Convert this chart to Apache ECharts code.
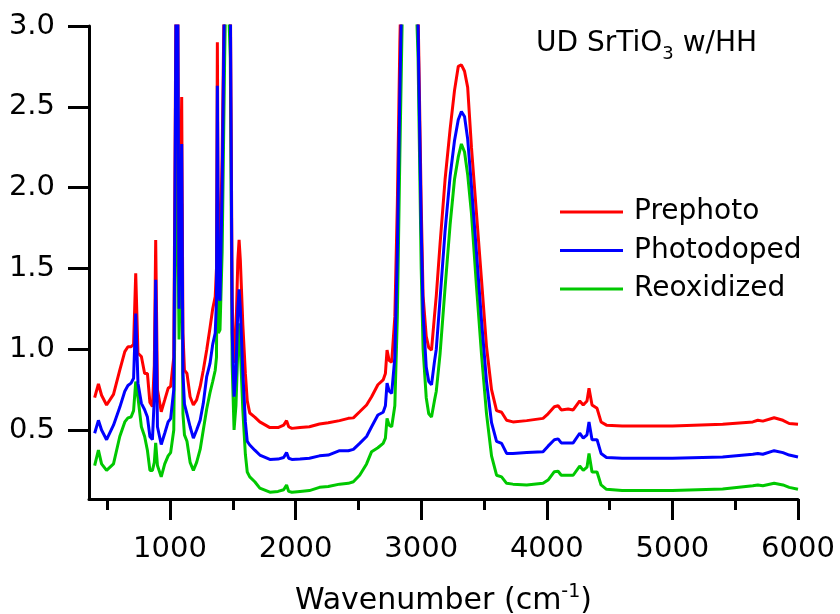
<!DOCTYPE html>
<html><head><meta charset="utf-8">
<script src="https://cdn.jsdelivr.net/npm/echarts@6/dist/echarts.min.js"></script>
<style>html,body{margin:0;padding:0;background:#fff}#c{width:840px;height:614px}</style>
</head><body><div id="c"></div><script>
const wavenumbers = [400,430,455,495,550,600,640,665,690,710,727,745,772,798,820,840,860,875,886,900,930,958,985,1005,1030,1040,1052,1062,1072,1083,1093,1103,1115,1135,1160,1186,1212,1240,1265,1292,1318,1340,1360,1370,1377,1385,1398,1415,1435,1450,1465,1480,1495,1510,1525,1540,1550,1560,1580,1600,1615,1635,1675,1715,1795,1860,1905,1928,1945,1970,2035,2110,2190,2260,2350,2420,2460,2510,2565,2605,2655,2697,2715,2728,2745,2765,2790,2810,2830,2850,2900,2950,2975,3000,3015,3040,3060,3082,3105,3120,3150,3190,3230,3265,3295,3320,3345,3370,3400,3440,3480,3520,3560,3600,3640,3680,3730,3840,3970,4010,4060,4090,4115,4170,4210,4262,4290,4320,4336,4360,4400,4432,4475,4600,5000,5400,5640,5680,5720,5810,5880,5930,6000];
const prephoto = [0.70,0.785,0.715,0.655,0.72,0.87,0.985,1.015,1.015,1.03,1.47,0.975,0.955,0.85,0.85,0.67,0.645,0.9,1.676,0.75,0.613,0.686,0.758,0.77,0.95,2.2,3.8,3.2,1.45,2.0,2.56,1.1,0.87,0.85,0.706,0.655,0.686,0.768,0.87,0.995,1.13,1.25,1.325,1.5,2.9,1.6,1.55,2.2,3.4,4.0,4.0,3.3,1.3,0.915,1.1,1.55,1.676,1.55,1.15,0.85,0.68,0.605,0.58,0.55,0.515,0.515,0.53,0.558,0.52,0.51,0.516,0.52,0.537,0.545,0.558,0.572,0.575,0.613,0.655,0.706,0.78,0.81,0.85,0.995,0.93,0.92,1.2,1.9,2.9,3.6,4.2,3.8,3.1,1.9,1.33,1.08,1.01,0.995,1.2,1.33,1.65,2.05,2.36,2.6,2.75,2.76,2.72,2.62,2.25,1.84,1.43,1.015,0.75,0.62,0.61,0.56,0.55,0.558,0.572,0.60,0.644,0.65,0.624,0.63,0.624,0.68,0.655,0.68,0.758,0.655,0.634,0.55,0.53,0.525,0.525,0.535,0.55,0.56,0.555,0.576,0.56,0.54,0.535];
const photodoped = [0.48,0.56,0.50,0.44,0.53,0.64,0.74,0.775,0.79,0.82,1.22,0.79,0.665,0.625,0.58,0.46,0.44,0.7,1.43,0.52,0.41,0.48,0.55,0.57,0.75,2.0,3.7,3.1,1.25,1.8,2.27,0.85,0.66,0.60,0.52,0.45,0.50,0.56,0.665,0.83,0.91,1.03,1.10,1.3,2.63,1.35,1.30,2.0,3.3,4.0,4.0,3.2,1.1,0.706,0.85,1.25,1.37,1.25,0.85,0.55,0.43,0.407,0.375,0.345,0.318,0.32,0.33,0.36,0.325,0.318,0.32,0.325,0.34,0.345,0.372,0.372,0.38,0.417,0.46,0.52,0.593,0.61,0.65,0.79,0.74,0.727,0.95,1.6,2.6,3.4,4.0,3.6,3.0,1.75,1.22,0.89,0.80,0.78,0.92,1.0,1.31,1.73,2.07,2.29,2.42,2.47,2.44,2.30,2.01,1.60,1.18,0.80,0.545,0.43,0.417,0.355,0.355,0.36,0.365,0.40,0.44,0.445,0.42,0.42,0.42,0.48,0.45,0.47,0.55,0.44,0.44,0.355,0.33,0.325,0.325,0.333,0.35,0.355,0.35,0.372,0.36,0.345,0.333];
const reoxidized = [0.28,0.375,0.29,0.25,0.29,0.46,0.55,0.575,0.58,0.62,0.80,0.70,0.52,0.46,0.375,0.25,0.25,0.3,0.42,0.28,0.21,0.29,0.34,0.36,0.50,1.3,2.7,1.8,1.06,1.5,1.9,0.6,0.47,0.43,0.30,0.25,0.30,0.38,0.50,0.63,0.73,0.80,0.87,0.95,1.9,1.1,1.12,1.6,2.8,3.5,3.5,2.8,0.9,0.50,0.65,1.0,1.16,1.0,0.62,0.35,0.24,0.21,0.18,0.14,0.115,0.12,0.13,0.16,0.12,0.115,0.12,0.125,0.145,0.15,0.165,0.17,0.18,0.22,0.29,0.366,0.39,0.417,0.45,0.572,0.53,0.52,0.65,1.2,2.2,3.1,3.8,3.4,2.8,1.5,1.0,0.70,0.60,0.58,0.68,0.74,0.97,1.38,1.77,2.05,2.19,2.27,2.22,2.08,1.84,1.39,0.97,0.60,0.34,0.22,0.21,0.17,0.165,0.16,0.17,0.19,0.242,0.245,0.22,0.22,0.22,0.277,0.25,0.27,0.355,0.24,0.24,0.16,0.133,0.125,0.125,0.135,0.155,0.16,0.155,0.17,0.16,0.145,0.133];
const seriesNames = ['Prephoto','Photodoped','Reoxidized'];
const xMajorTicks = [1000,2000,3000,4000,5000,6000];
const xMinorTicks = [500,1500,2500,3500,4500,5500];
const yTicks = [0.5,1.0,1.5,2.0,2.5,3.0];

const FONT = 'DejaVu Sans';
const chart = echarts.init(document.getElementById('c'), null, {renderer:'canvas'});
const pair = arr => wavenumbers.map((w,i)=>[w, arr[i]]);
const mk = (name, arr, color, z) => ({
  name, type:'line', data: pair(arr), showSymbol:false, symbol:'none',
  lineStyle:{color, width:3}, itemStyle:{color}, z, clip:true, animation:false
});
chart.setOption({
  animation:false,
  backgroundColor:'#fff',
  grid:{left:89, right:42, top:26, bottom:115, containLabel:false, outerBoundsMode:'none'},
  title:{
    text:'{a|UD SrTiO}{b|3}{a| w/HH}',
    left:531, top:22,
    textStyle:{fontWeight:'normal', rich:{
      a:{fontFamily:FONT, fontSize:28, fontWeight:'normal', color:'#000', lineHeight:34},
      b:{fontFamily:FONT, fontSize:18, fontWeight:'normal', color:'#000', verticalAlign:'bottom', lineHeight:22, padding:[0,0,-2,0]}
    }}
  },
  legend:{
    data:seriesNames, orient:'vertical', left:555, top:192,
    icon:'rect', itemWidth:63, itemHeight:3, itemGap:8.5,
    textStyle:{fontFamily:FONT, fontSize:28, color:'#000', lineHeight:30, padding:[0,0,0,6]}
  },
  xAxis:[{
    type:'value', min:355, max:6000,
    name:'{a|Wavenumber (cm}{s|-1}{a|)}', nameLocation:'middle', nameGap:84,
    nameTextStyle:{rich:{
      a:{fontFamily:FONT, fontSize:30, color:'#000', lineHeight:36},
      s:{fontFamily:FONT, fontSize:19, color:'#000', verticalAlign:'top', lineHeight:20}
    }},
    axisLine:{show:true, lineStyle:{color:'#000', width:3}},
    axisTick:{show:true, customValues:xMajorTicks, length:21, lineStyle:{color:'#000', width:3}},
    axisLabel:{customValues:xMajorTicks, margin:36, fontFamily:FONT, fontSize:29, color:'#000', formatter:v=>String(v)},
    splitLine:{show:false}
  },{
    type:'value', min:355, max:6000, position:'bottom',
    axisLine:{show:false},
    axisTick:{show:true, customValues:xMinorTicks, length:11, lineStyle:{color:'#000', width:3}},
    axisLabel:{show:false}, splitLine:{show:false}
  }],
  yAxis:{
    type:'value', min:0.073, max:3.0,
    axisLine:{show:true, lineStyle:{color:'#000', width:3}},
    axisTick:{show:true, customValues:yTicks, length:21, lineStyle:{color:'#000', width:3}},
    axisLabel:{customValues:yTicks, margin:34, fontFamily:FONT, fontSize:29, color:'#000', formatter:v=>v.toFixed(1)},
    splitLine:{show:false}
  },
  series:[
    mk(seriesNames[0], prephoto, '#ff0000', 3),
    mk(seriesNames[1], photodoped, '#0000ff', 4),
    mk(seriesNames[2], reoxidized, '#00c800', 2)
  ]
});
</script></body></html>
